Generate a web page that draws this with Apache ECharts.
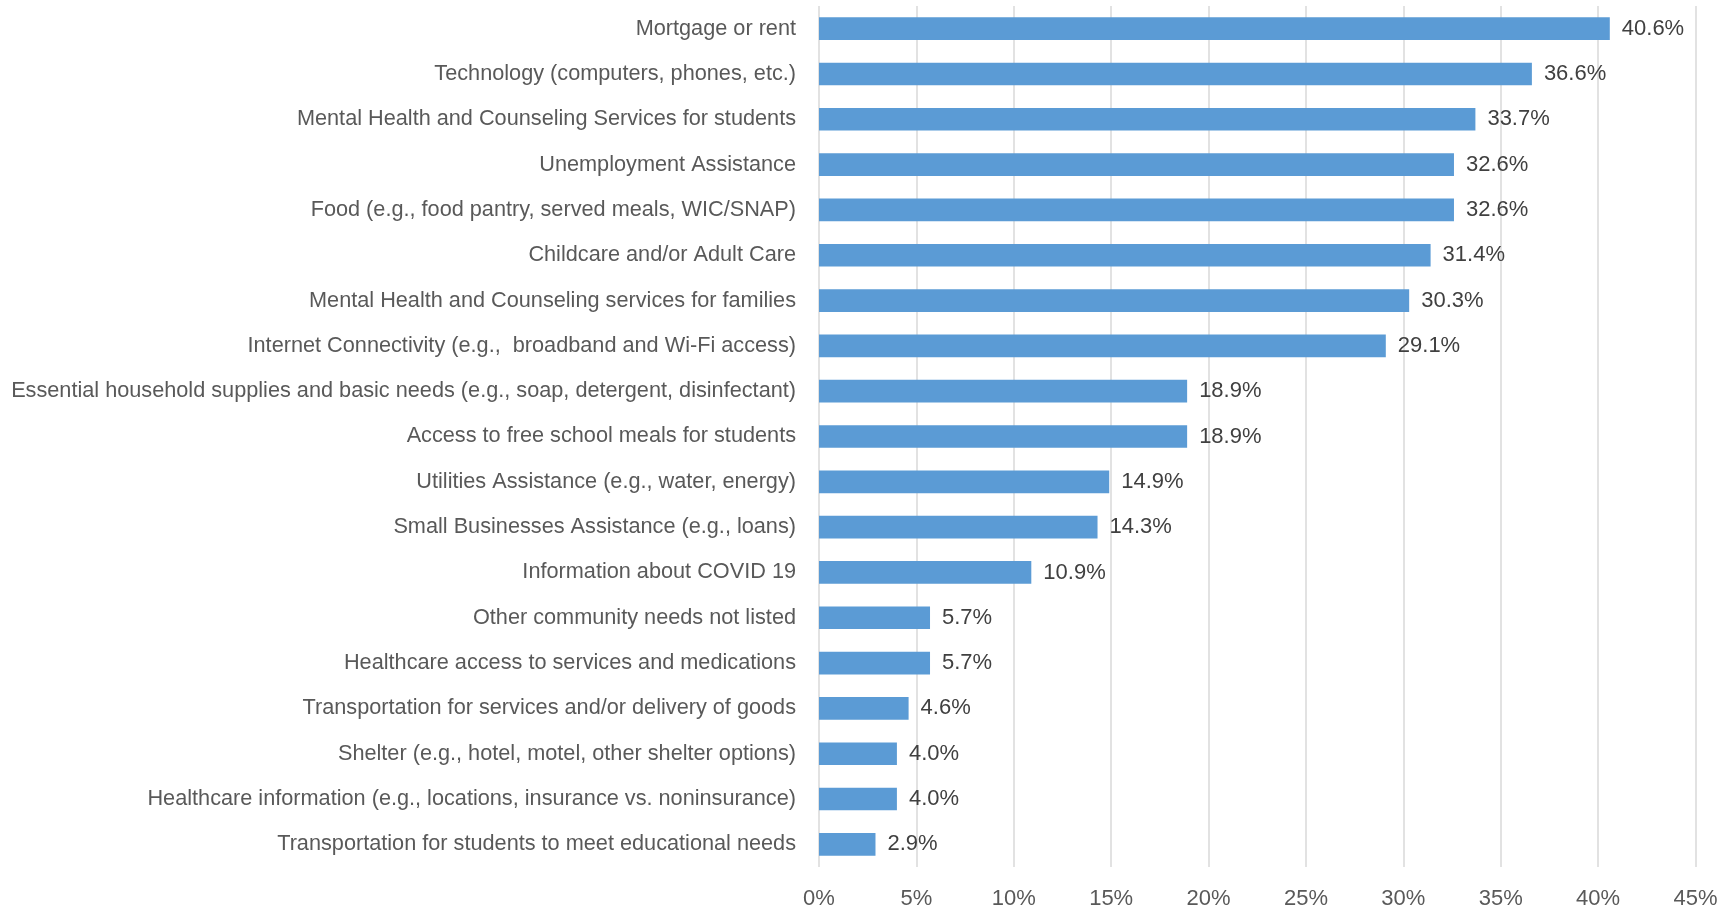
<!DOCTYPE html>
<html>
<head>
<meta charset="utf-8">
<script src="https://cdn.jsdelivr.net/npm/echarts@6/dist/echarts.min.js"></script>
<style>
html,body{margin:0;padding:0;background:#fff;}
#chart{width:1735px;height:909px;}
</style>
</head>
<body>
<div id="chart"></div>
<script>
const categories = [
  "Mortgage or rent",
  "Technology (computers, phones, etc.)",
  "Mental Health and Counseling Services for students",
  "Unemployment Assistance",
  "Food (e.g., food pantry, served meals, WIC/SNAP)",
  "Childcare and/or Adult Care",
  "Mental Health and Counseling services for families",
  "Internet Connectivity (e.g.,  broadband and Wi-Fi access)",
  "Essential household supplies and basic needs (e.g., soap, detergent, disinfectant)",
  "Access to free school meals for students",
  "Utilities Assistance (e.g., water, energy)",
  "Small Businesses Assistance (e.g., loans)",
  "Information about COVID 19",
  "Other community needs not listed",
  "Healthcare access to services and medications",
  "Transportation for services and/or delivery of goods",
  "Shelter (e.g., hotel, motel, other shelter options)",
  "Healthcare information (e.g., locations, insurance vs. noninsurance)",
  "Transportation for students to meet educational needs"
];
const values = [40.6, 36.6, 33.7, 32.6, 32.6, 31.4, 30.3, 29.1, 18.9, 18.9, 14.9, 14.3, 10.9, 5.7, 5.7, 4.6, 4.0, 4.0, 2.9];
const xTicks = [0, 5, 10, 15, 20, 25, 30, 35, 40, 45];

const FONT = "'Liberation Sans', Arial, sans-serif";
const chart = echarts.init(document.getElementById('chart'));
chart.setOption({
  animation: false,
  backgroundColor: '#ffffff',
  grid: {left: 819, right: 39.5, top: 6, bottom: 42, containLabel: false, outerBoundsMode: 'none'},
  xAxis: {
    type: 'value',
    min: xTicks[0],
    max: xTicks[xTicks.length - 1],
    interval: 5,
    axisLine: {show: false},
    axisTick: {show: false},
    splitLine: {show: true, lineStyle: {color: '#D9D9D9', width: 1.5}},
    axisLabel: {formatter: '{value}%', color: '#595959', fontSize: 22, fontFamily: FONT, margin: 21}
  },
  yAxis: {
    type: 'category',
    data: categories,
    inverse: true,
    axisLine: {show: false},
    axisTick: {show: false},
    axisLabel: {color: '#595959', fontSize: 21.7, fontFamily: FONT, margin: 23, padding: [3, 0, 0, 0]}
  },
  series: [{
    type: 'bar',
    data: values,
    barCategoryGap: '50%',
    itemStyle: {color: '#5B9BD5'},
    label: {
      show: true,
      position: 'right',
      distance: 12,
      color: '#404040',
      fontSize: 22,
      fontFamily: FONT,
      padding: [3, 0, 0, 0],
      formatter: p => p.value.toFixed(1) + '%'
    }
  }]
});
</script>
</body>
</html>
